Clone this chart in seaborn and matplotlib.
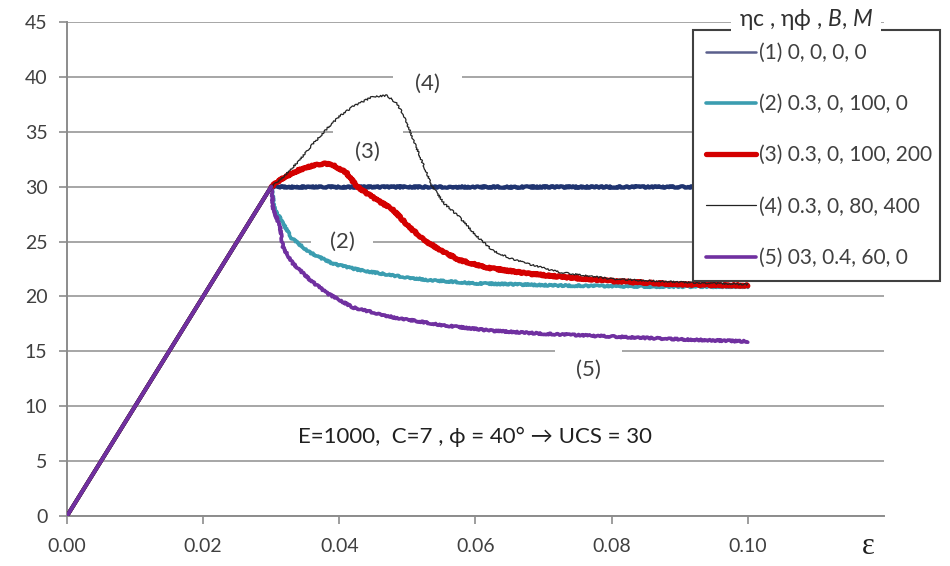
import matplotlib
matplotlib.use("Agg")
import matplotlib.pyplot as plt
from matplotlib.lines import Line2D
import seaborn as sns
import numpy as np

# ---------------- data ----------------
s1_x = [0, 0.03, 0.10]
s1_y = [0, 30, 30]

s2_x = [0, 0.03, 0.0305, 0.0317, 0.033, 0.0357, 0.039, 0.043, 0.048, 0.053, 0.06, 0.072, 0.085, 0.10]
s2_y = [0, 30, 28.0, 26.7, 25.3, 24.0, 23.0, 22.4, 21.9, 21.5, 21.2, 21.0, 20.9, 20.9]

s3_x = [0, 0.03, 0.032, 0.034, 0.036, 0.0376, 0.039, 0.041, 0.0426, 0.0455, 0.0479, 0.0503,
        0.0528, 0.0555, 0.0577, 0.062, 0.0675, 0.0724, 0.08, 0.09, 0.10]
s3_y = [0, 30, 30.9, 31.5, 31.9, 32.1, 32.0, 31.3, 30.0, 28.8, 27.9, 26.3,
        25.0, 24.0, 23.3, 22.6, 22.1, 21.8, 21.4, 21.1, 21.0]

s4_x = [0, 0.03, 0.0313, 0.034, 0.036, 0.0382, 0.040, 0.042, 0.0449, 0.047, 0.0484, 0.0495,
        0.0503, 0.052, 0.0537, 0.0555, 0.0577, 0.06, 0.0625, 0.065, 0.0675, 0.0724, 0.08, 0.09, 0.10]
s4_y = [0, 30, 30.6, 32.3, 33.8, 35.3, 36.4, 37.3, 38.2, 38.3, 37.6, 36.5,
        35.2, 32.5, 30.0, 28.4, 27.2, 25.6, 24.2, 23.5, 23.0, 22.2, 21.6, 21.3, 21.1]

s5_x = [0, 0.03, 0.0303, 0.0313, 0.0317, 0.0332, 0.0357, 0.0382, 0.042, 0.0479, 0.055, 0.062,
        0.07, 0.078, 0.09, 0.10]
s5_y = [0, 30, 28.0, 26.3, 24.5, 23.0, 21.5, 20.3, 19.0, 18.1, 17.4, 16.9,
        16.6, 16.4, 16.1, 15.9]

labels = ["(1) 0, 0, 0, 0", "(2) 0.3, 0, 100, 0", "(3) 0.3, 0, 100, 200",
          "(4) 0.3, 0, 80, 400", "(5) 03, 0.4, 60, 0"]
legend_title = "ηc , ηϕ , $B$, $M$"

x_ticks = [0.00, 0.02, 0.04, 0.06, 0.08, 0.10]
x_ticklabels = ["0.00", "0.02", "0.04", "0.06", "0.08", "0.10"]
y_ticks = [0, 5, 10, 15, 20, 25, 30, 35, 40, 45]

curve_labels = ["(4)", "(3)", "(2)", "(5)"]
curve_label_x = [0.053, 0.0442, 0.0404, 0.0766]
curve_label_y = [39.4, 33.2, 25.0, 13.3]
note = "E=1000,  C=7 , ϕ = 40° → UCS = 30"

# ---------------- style ----------------
sns.set_theme(style="white")
plt.rcParams['font.family'] = ['Lato', 'DejaVu Sans']
plt.rcParams['mathtext.fontset'] = 'custom'
plt.rcParams['mathtext.it'] = 'Lato:italic'
plt.rcParams['mathtext.rm'] = 'Lato'

fig = plt.figure(figsize=(9.5, 5.66), dpi=100)
ax = fig.add_axes([0.0705, 0.0883, 0.8600, 0.8728])

colors = ["#1f3470", "#3b9db0", "#d40000", "#222222", "#7030a0"]
widths = [3.0, 2.6, 3.8, 0.9, 2.6]
series = [(s1_x, s1_y), (s2_x, s2_y), (s3_x, s3_y), (s4_x, s4_y), (s5_x, s5_y)]

# softening branches (from the peak point on), with the slightly jagged look
for i, ((xs, ys), c, w) in enumerate(zip(series, colors, widths)):
    sns.lineplot(x=xs[1:], y=ys[1:], ax=ax, color=c, linewidth=w, sort=False,
                 estimator=None, zorder=3 + i)

for ln in ax.get_lines():
    ln.set_sketch_params(scale=0.8, length=2.0, randomness=6)
    ln.set_solid_joinstyle('round')

# shared elastic branch (first segment, identical in all series; series 5 drawn last)
for i, ((xs, ys), c, w) in enumerate(zip(series, colors, widths)):
    sns.lineplot(x=xs[:2], y=ys[:2], ax=ax, color=c, linewidth=2.8,
                 sort=False, estimator=None, zorder=10 + i)

ax.set_xlim(0, 0.12)
ax.set_ylim(0, 45)
ax.set_xticks(x_ticks)
ax.set_xticklabels(x_ticklabels)
ax.set_yticks(y_ticks)

ax.set_axisbelow(True)
ax.yaxis.grid(True, color="#a6a6a6", linewidth=1.4)
ax.xaxis.grid(False)
for s in ["top", "right"]:
    ax.spines[s].set_visible(False)
for s in ["left", "bottom"]:
    ax.spines[s].set_color("#8c8c8c")
    ax.spines[s].set_linewidth(1.4)

ax.tick_params(axis='both', which='major', direction='out', colors="#8c8c8c",
               labelcolor="#404040", labelsize=14, length=6, width=1.2)
ax.tick_params(axis='y', pad=8, left=True)
ax.tick_params(axis='x', pad=10, bottom=True)

# curve labels with white box hiding gridlines
pads = [1.0, 1.0, 0.85, 0.95]
for t, xx, yy, p in zip(curve_labels, curve_label_x, curve_label_y, pads):
    ax.text(xx, yy, t, ha='center', va='center', fontsize=16, color="#404040",
            zorder=2, bbox=dict(boxstyle=f"square,pad={p}", facecolor='white', edgecolor='none'))

ax.text(0.0599, 7.2, note, ha='center', va='center', fontsize=16, color="#202020",
        family=['Lato', 'DejaVu Sans'], zorder=2)

# legend
handles = [Line2D([0], [0], color=c, linewidth=(w if i != 0 else 1.8))
           for i, (c, w) in enumerate(zip(["#5a5f8c"] + colors[1:], widths))]
leg = ax.legend(handles=handles, labels=labels, loc='upper left',
                bbox_to_anchor=(0.766, 0.484, 0.3026, 0.50), mode='expand',
                borderaxespad=0, fontsize=15, frameon=True, fancybox=False,
                framealpha=1, edgecolor="#404040", labelspacing=1.5,
                handlelength=2.4, handletextpad=0.15, borderpad=0.62)
leg.get_frame().set_linewidth(1.5)
for t in leg.get_texts():
    t.set_color("#404040")
leg.set_zorder(20)

fig.text(0.848, 0.966, legend_title, ha='center', va='center', fontsize=16.5,
         color="#303030", zorder=30,
         bbox=dict(boxstyle="square,pad=0.35", facecolor='white', edgecolor='none'))

fig.text(0.914, 0.035, "ε", ha='center', va='center', fontsize=22,
         family='Liberation Serif', color="#202020")

fig.savefig("out.png", dpi=100)
